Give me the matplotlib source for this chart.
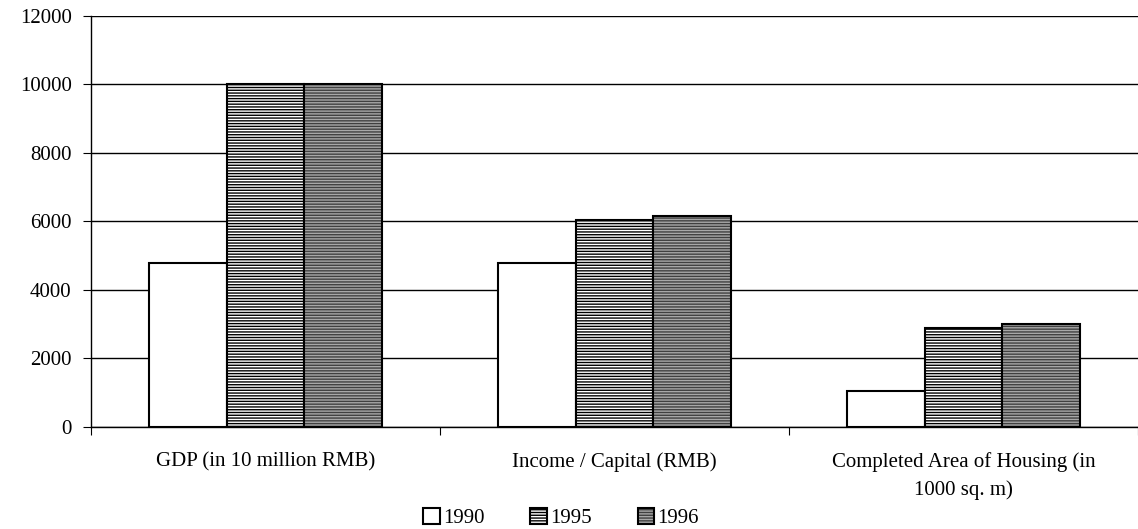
import matplotlib.pyplot as plt
import numpy as np

plt.rcParams['font.family'] = ['Liberation Serif', 'DejaVu Serif']
plt.rcParams['hatch.linewidth'] = 1.0

categories = ['GDP (in 10 million RMB)', 'Income / Capital (RMB)',
              'Completed Area of Housing (in\n1000 sq. m)']
years = ['1990', '1995', '1996']
v1990 = [4790, 4790, 1050]
v1995 = [10010, 6040, 2890]
v1996 = [10010, 6160, 3010]

fig = plt.figure(figsize=(11.38, 5.29), dpi=100)
ax = fig.add_axes([0.080, 0.193, 0.920, 0.777])

x = np.arange(len(categories))
w = 0.223
styles = [
    dict(facecolor='white', hatch=None),
    dict(facecolor='white', hatch='------'),
    dict(facecolor='#a8a8a8', hatch='------'),
]
for i, (vals, yr, st) in enumerate(zip([v1990, v1995, v1996], years, styles)):
    bars = ax.bar(x + (i - 1) * w, vals, w, label=yr, facecolor=st['facecolor'],
                  edgecolor='black', linewidth=1.5, hatch=st['hatch'], zorder=3)
    if i == 2:
        for b in bars:
            b._hatch_color = (0.25, 0.25, 0.25, 1)

ax.set_ylim(0, 12000)
ax.set_xlim(-0.5, 2.5)
ax.set_yticks(range(0, 12001, 2000))
ax.yaxis.grid(True, color='black', linewidth=1.0)
ax.set_axisbelow(True)

ax.set_xticks([-0.5, 0.5, 1.5, 2.5])
ax.set_xticklabels([])
ax.set_xticks(x, minor=True)
ax.set_xticklabels(categories, minor=True, fontsize=15, linespacing=1.55)
ax.tick_params(axis='x', which='minor', length=0, pad=18)
ax.tick_params(axis='x', which='major', direction='out', length=6)
ax.tick_params(axis='y', direction='out', length=6, labelsize=15, pad=8)

for s in ['top', 'right']:
    ax.spines[s].set_visible(False)
ax.spines['left'].set_linewidth(1.0)
ax.spines['bottom'].set_linewidth(1.0)

fig.legend(loc='center', bbox_to_anchor=(0.493, 0.021), ncol=3, frameon=False,
           fontsize=15, handlelength=0.8, handleheight=0.8, handletextpad=0.15,
           columnspacing=2.2)

fig.savefig('out.png', dpi=100)
